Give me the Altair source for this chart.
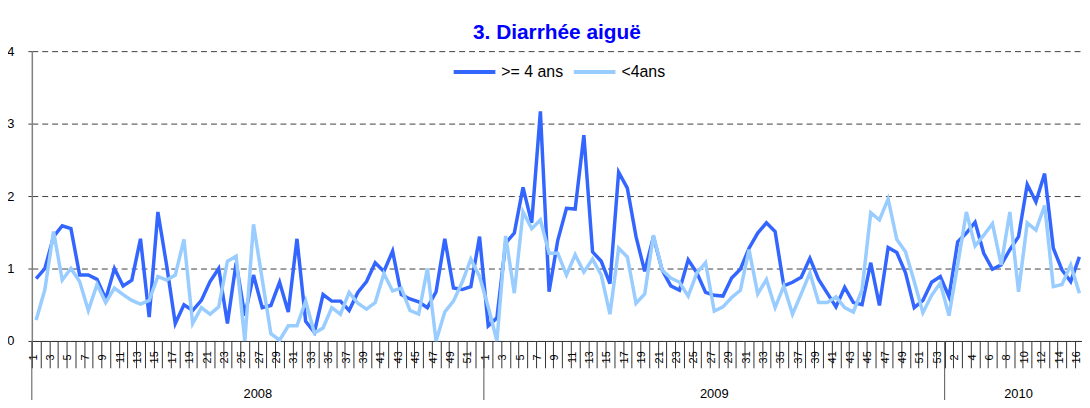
import json
import altair as alt
import pandas as pd

# ---------------- data ----------------
years = ["2008", "2009", "2010"]
weeks_per_year = [52, 53, 17]   # 2010 continues past the cropped right edge
series_names = [">= 4 ans", "<4ans"]
series_colors = ["#3366FF", "#99CCFF"]

ge4_2008 = [0.86, 1.00, 1.44, 1.59, 1.55, 0.91, 0.91, 0.85, 0.58, 1.00,
            0.76, 0.84, 1.41, 0.33, 1.78, 1.05, 0.24, 0.50, 0.42, 0.56,
            0.82, 1.00, 0.24, 1.08, 0.35, 0.91, 0.46, 0.49, 0.81, 0.40,
            1.41, 0.27, 0.12, 0.64, 0.55, 0.55, 0.42, 0.67, 0.82, 1.08,
            0.96, 1.24, 0.64, 0.58, 0.54, 0.46, 0.68, 1.41, 0.73, 0.71,
            0.75, 1.44]
ge4_2009 = [0.21, 0.32, 1.35, 1.49, 2.12, 1.63, 3.17, 0.68, 1.39, 1.83,
            1.82, 2.84, 1.23, 1.10, 0.79, 2.33, 2.11, 1.44, 0.96, 1.44,
            0.98, 0.76, 0.70, 1.12, 0.94, 0.67, 0.63, 0.62, 0.87, 0.99,
            1.28, 1.49, 1.63, 1.51, 0.76, 0.81, 0.88, 1.14, 0.85, 0.66,
            0.47, 0.74, 0.53, 0.50, 1.08, 0.49, 1.29, 1.22, 0.94, 0.46,
            0.56, 0.81, 0.89]
ge4_2010 = [0.61, 1.37, 1.49, 1.64, 1.21, 0.99, 1.05, 1.26, 1.44, 2.16,
            1.92, 2.31, 1.28, 0.98, 0.82, 1.16]

lt4_2008 = [0.29, 0.71, 1.51, 0.84, 1.00, 0.82, 0.42, 0.78, 0.53, 0.73,
            0.64, 0.56, 0.51, 0.56, 0.89, 0.84, 0.91, 1.40, 0.24, 0.46,
            0.37, 0.47, 1.10, 1.17, 0.00, 1.61, 0.85, 0.10, 0.01, 0.21,
            0.21, 0.55, 0.11, 0.18, 0.46, 0.37, 0.67, 0.52, 0.44, 0.53,
            0.93, 0.69, 0.73, 0.42, 0.37, 1.00, 0.00, 0.40, 0.55, 0.81,
            1.13, 0.89]
lt4_2009 = [0.47, 0.00, 1.45, 0.66, 1.78, 1.55, 1.67, 1.21, 1.21, 0.91,
            1.19, 0.95, 1.13, 0.91, 0.37, 1.28, 1.16, 0.52, 0.65, 1.46,
            0.98, 0.87, 0.81, 0.62, 0.94, 1.08, 0.41, 0.47, 0.60, 0.70,
            1.26, 0.65, 0.85, 0.46, 0.76, 0.37, 0.65, 0.94, 0.53, 0.53,
            0.61, 0.46, 0.40, 0.71, 1.77, 1.67, 1.96, 1.40, 1.23, 0.82,
            0.39, 0.63, 0.80]
lt4_2010 = [0.35, 1.05, 1.78, 1.31, 1.46, 1.62, 1.05, 1.78, 0.68, 1.63,
            1.53, 1.87, 0.75, 0.78, 1.05, 0.66]

y_ticks = [0, 1, 2, 3, 4]

# ---------------- tables ----------------
week_labels = []
for n in weeks_per_year:
    week_labels += [str(w) for w in range(1, n + 1)]

ge4 = ge4_2008 + ge4_2009 + ge4_2010
lt4 = lt4_2008 + lt4_2009 + lt4_2010

rows = []
for i, (a, b) in enumerate(zip(ge4, lt4)):
    rows.append({"pos": i + 0.5, "value": a, "series": series_names[0]})
    rows.append({"pos": i + 0.5, "value": b, "series": series_names[1]})
df = pd.DataFrame(rows)

bounds = [0]
for n in weeks_per_year:
    bounds.append(bounds[-1] + n)
sep_df = pd.DataFrame({"pos": bounds[:-1]})
year_df = pd.DataFrame({
    "pos": [(bounds[k] + bounds[k + 1]) / 2 for k in range(len(years))],
    "year": years,
})

shown = [lab if k % 2 == 0 else "" for k, lab in enumerate(week_labels)]
label_expr = json.dumps(shown) + "[round(datum.value)]"

W = 1058
H = 292
x_max = 120.8  # visible extent of the category axis (picture is cropped at right)
step = W / x_max
n_visible = len(ge4)

x_enc = alt.X(
    "pos:Q",
    title=None,
    scale=alt.Scale(domain=[0, x_max], nice=False, zero=False),
    axis=alt.Axis(
        values=list(range(0, n_visible)),
        labelExpr=label_expr,
        labelAngle=-90,
        labelAlign="center",
        labelBaseline="middle",
        labelOffset=step / 2 - 3,
        labelPadding=-11,
        labelFontSize=11,
        labelColor="#000000",
        labelOverlap=False,
        labelBound=False,
        labelFlush=False,
        tickSize=27,
        tickColor="#333333",
        tickWidth=1,
        domainColor="#333333",
        domainWidth=1,
        grid=False,
    ),
)

y_enc = alt.Y(
    "value:Q",
    title=None,
    scale=alt.Scale(domain=[0, 4], nice=False),
    axis=alt.Axis(
        values=y_ticks,
        format="d",
        grid=True,
        gridDash=[6, 4],
        gridColor="#404040",
        gridWidth=1,
        domainColor="#808080",
        domainWidth=1.5,
        tickColor="#404040",
        tickSize=4,
        labelPadding=14,
        labelFontSize=13,
        labelColor="#000000",
    ),
)

color_enc = alt.Color(
    "series:N",
    scale=alt.Scale(domain=series_names, range=series_colors),
    legend=alt.Legend(
        title=None,
        orient="none",
        legendX=423,
        legendY=-2,
        direction="horizontal",
        symbolType="stroke",
        symbolStrokeWidth=4,
        symbolSize=1764,
        labelFontSize=16,
        labelOffset=4,
        columnPadding=2,
        padding=0,
        labelColor="#000000",
    ),
)

base = alt.Chart(df)
dark = base.transform_filter(alt.datum.series == series_names[0]).mark_line(
    strokeWidth=3.5
).encode(x=x_enc, y=y_enc, color=color_enc, order="pos:Q")
light = base.transform_filter(alt.datum.series == series_names[1]).mark_line(
    strokeWidth=3.5
).encode(x=x_enc, y=y_enc, color=color_enc, order="pos:Q")

seps = alt.Chart(sep_df).mark_rule(color="#555555", strokeWidth=1).encode(
    x=x_enc, y=alt.value(H), y2=alt.value(H + 62)
)
year_text = alt.Chart(year_df).mark_text(
    fontSize=13, baseline="middle", align="center", color="#000000"
).encode(x=x_enc, y=alt.value(H + 53), text="year:N")

chart = alt.layer(dark, light, seps, year_text).properties(
    width=W,
    height=H,
    title=alt.TitleParams(
        "3. Diarrhée aiguë",
        fontSize=21,
        fontWeight="bold",
        color="#0000FF",
        anchor="middle",
        frame="group",
        offset=2,
    ),
    autosize=alt.AutoSizeParams(type="none"),
    padding={"left": 24, "top": 42, "right": 0, "bottom": 58},
).configure(
    font="Liberation Sans",
    background="#FFFFFF",
).configure_view(stroke=None)

chart.save("out.html", embed_options={"renderer": "svg", "actions": False})
